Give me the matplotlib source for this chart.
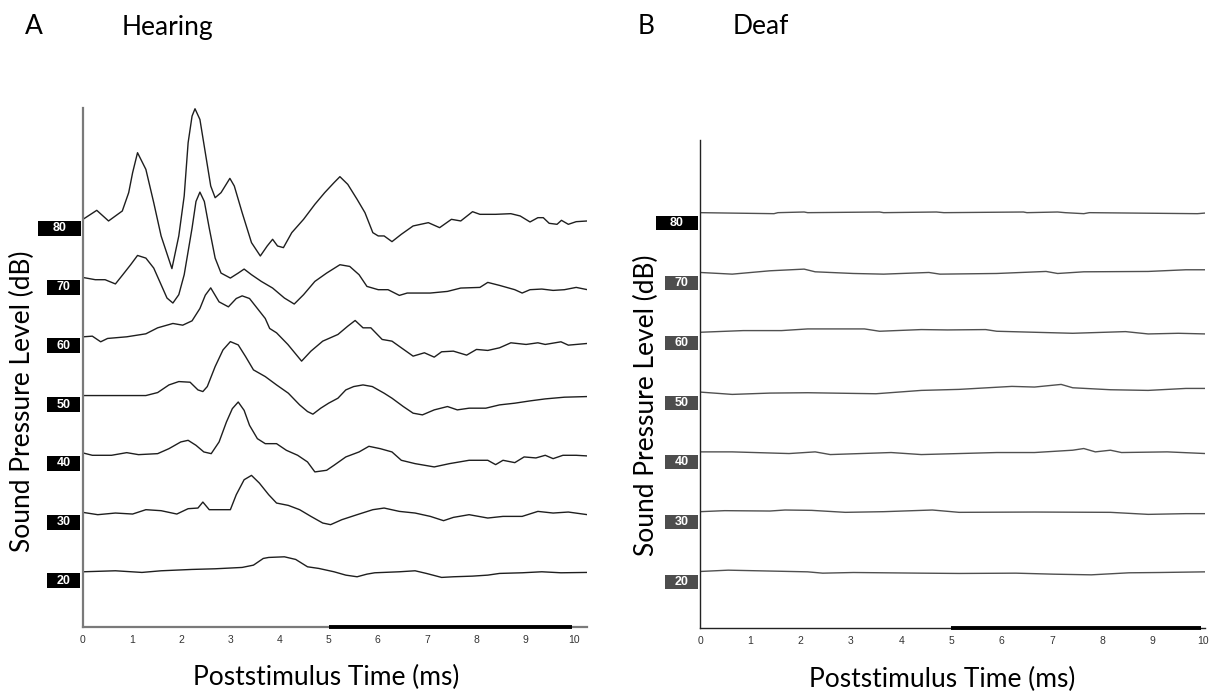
"""
Auditory brainstem responses of a hearing and a deaf animal,
redrawn as two stacked-trace panels (A: Hearing, B: Deaf).
"""
import matplotlib
matplotlib.use('Agg')
from matplotlib import pyplot as plt
from matplotlib.patches import Rectangle

plt.rcParams['font.family'] = ['Lato', 'DejaVu Sans']

levels = [80, 70, 60, 50, 40, 30, 20]
x_ticks = [0, 1, 2, 3, 4, 5, 6, 7, 8, 9, 10]
stim_start, stim_end = 5, 9.96

# --- panel A, hearing: time (ms) and deflection (dB units) per trace ---
hear_80_t = [0, 0.28, 0.52, 0.80, 0.93, 1.01, 1.11, 1.28, 1.44, 1.59, 1.81, 1.95, 2.06,
             2.14, 2.22, 2.28, 2.38, 2.49, 2.60, 2.69, 2.81, 2.99, 3.08, 3.24, 3.43, 3.61,
             3.75, 3.86, 3.96, 4.08, 4.25, 4.49, 4.72, 4.92, 5.11, 5.23, 5.39, 5.58, 5.74,
             5.90, 6.01, 6.13, 6.29, 6.48, 6.72, 7.03, 7.26, 7.50, 7.69, 7.93, 8.08, 8.40,
             8.71, 8.90, 9.10, 9.26, 9.37, 9.49, 9.65, 9.74, 9.88, 10.04, 10.27]
hear_80_a = [0, 1.53, -0.28, 1.42, 4.54, 7.94, 11.34, 8.50, 2.83, -2.83, -8.39, -2.83, 3.97,
             13.04, 17.57, 18.82, 17.0, 11.34, 5.67, 3.68, 4.54, 6.97, 5.67, 1.13, -3.97, -6.24,
             -4.54, -3.40, -4.54, -4.82, -2.27, 0, 2.55, 4.54, 6.24, 7.26, 5.95, 3.40, 1.13,
             -2.27, -2.83, -2.83, -3.80, -2.55, -1.13, -0.57, -1.42, 0, -0.28, 1.30, 0.85, 0.85,
             0.96, 0.57, -0.45, 0.28, 0.28, -0.68, -0.85, -0.17, -0.85, -0.40, -0.28]

hear_70_t = [0, 0.25, 0.45, 0.66, 0.81, 0.97, 1.11, 1.28, 1.44, 1.59, 1.71, 1.83, 1.95, 2.06,
             2.22, 2.30, 2.38, 2.47, 2.57, 2.69, 2.81, 3.00, 3.16, 3.28, 3.43, 3.63, 3.86,
             4.10, 4.30, 4.49, 4.72, 4.96, 5.23, 5.43, 5.62, 5.78, 6.01, 6.21, 6.44, 6.60,
             7.07, 7.42, 7.69, 8.08, 8.24, 8.48, 8.79, 8.94, 9.10, 9.34, 9.57, 9.80, 10.04, 10.27]
hear_70_a = [0.1, -0.28, -0.28, -1.0, 0.57, 2.27, 3.85, 3.40, 1.70, -1.13, -3.40, -4.25, -2.83,
             0.57, 8.50, 13.04, 14.63, 13.04, 8.50, 3.40, 0.85, 0, 0.85, 1.53, 0.57, -0.57,
             -1.70, -3.40, -4.42, -2.83, -0.57, 0.85, 2.27, 1.98, 0.57, -1.42, -1.98, -1.98,
             -2.95, -2.55, -2.55, -2.27, -1.70, -1.59, -0.74, -1.25, -1.98, -2.55, -1.98, -1.87,
             -2.10, -1.98, -1.59, -1.98]

hear_60_t = [0, 0.19, 0.36, 0.50, 0.89, 1.28, 1.52, 1.83, 2.03, 2.22, 2.38, 2.49, 2.60, 2.77,
             2.96, 3.12, 3.24, 3.39, 3.55, 3.71, 3.80, 3.94, 4.17, 4.45, 4.64, 4.88, 5.19,
             5.39, 5.54, 5.70, 5.86, 6.09, 6.29, 6.48, 6.72, 6.95, 7.15, 7.30, 7.54, 7.81,
             8.01, 8.24, 8.48, 8.71, 9.02, 9.26, 9.41, 9.73, 9.88, 10.27]
hear_60_a = [0, 0.11, -0.85, -0.28, 0, 0.51, 1.53, 2.27, 1.98, 2.72, 4.82, 7.09, 8.33, 5.95,
             5.10, 6.52, 6.97, 6.52, 4.82, 3.12, 1.42, 0.68, -1.30, -4.14, -2.44, -0.74, 0.40,
             1.81, 2.78, 1.53, 1.53, -0.45, -0.74, -1.87, -3.29, -2.72, -3.46, -2.55, -2.44,
             -3.12, -2.15, -2.32, -1.87, -1.02, -1.30, -1.02, -1.30, -0.85, -1.42, -1.13]

hear_50_t = [0, 1.28, 1.52, 1.75, 1.95, 2.18, 2.34, 2.44, 2.53, 2.69, 2.85, 3.00, 3.16, 3.31,
             3.47, 3.71, 3.94, 4.18, 4.41, 4.57, 4.68, 4.84, 5.00, 5.19, 5.35, 5.51, 5.70,
             5.89, 6.13, 6.29, 6.52, 6.72, 6.91, 7.15, 7.42, 7.62, 7.86, 8.20, 8.48, 8.79,
             9.10, 9.41, 9.80, 10.27]
hear_50_a = [0, 0, 0.51, 1.81, 2.38, 2.27, 0.96, 0.68, 1.53, 4.93, 7.77, 9.18, 8.62, 6.63,
             4.37, 3.23, 1.81, 0.40, -1.59, -2.72, -3.17, -2.15, -1.30, -0.45, 0.96, 1.53, 1.81,
             1.53, 0.40, -0.45, -1.87, -3.00, -3.29, -2.44, -1.87, -2.44, -2.15, -2.15, -1.59,
             -1.30, -0.91, -0.57, -0.28, -0.17]

hear_40_t = [0, 0.19, 0.58, 0.89, 1.13, 1.52, 1.75, 1.99, 2.14, 2.30, 2.46, 2.61, 2.77, 2.92,
             3.04, 3.16, 3.28, 3.39, 3.55, 3.71, 3.94, 4.14, 4.37, 4.57, 4.72, 4.96, 5.11,
             5.35, 5.62, 5.82, 6.05, 6.29, 6.48, 6.76, 7.15, 7.46, 7.86, 8.24, 8.40, 8.55,
             8.79, 8.98, 9.22, 9.41, 9.57, 9.77, 10.04, 10.27]
hear_40_a = [0.23, -0.17, -0.17, 0.28, -0.06, 0.11, 0.96, 2.10, 2.38, 1.53, 0.40, 0.11, 2.10,
             5.50, 7.77, 8.90, 7.48, 4.93, 2.66, 1.81, 1.81, 0.68, -0.17, -1.30, -3.00, -2.72,
             -1.87, -0.45, 0.40, 1.36, 0.96, 0.40, -1.02, -1.59, -2.15, -1.59, -1.02, -1.02,
             -1.76, -1.02, -1.42, -0.45, -0.62, -0.17, -0.74, -0.17, -0.17, -0.28]

hear_30_t = [0, 0.30, 0.66, 1.01, 1.28, 1.59, 1.91, 2.14, 2.34, 2.44, 2.57, 2.85, 3.00, 3.12,
             3.28, 3.43, 3.59, 3.78, 3.94, 4.18, 4.41, 4.64, 4.88, 5.04, 5.27, 5.58, 5.90,
             6.13, 6.44, 6.76, 7.07, 7.34, 7.54, 7.86, 8.24, 8.55, 8.94, 9.26, 9.57, 9.88, 10.27]
hear_30_a = [0.11, -0.28, 0, -0.17, 0.57, 0.40, -0.17, 0.74, 0.85, 1.87, 0.57, 0.57, 0.57, 3.12,
             5.67, 6.41, 5.10, 3.12, 1.70, 1.30, 0.57, -0.57, -1.70, -1.98, -1.13, -0.28, 0.57,
             0.85, 0.28, 0, -0.57, -1.30, -0.74, -0.28, -0.85, -0.57, -0.57, 0.28, 0, 0.17, -0.28]

hear_20_t = [0, 0.66, 1.20, 1.59, 2.22, 2.69, 3.24, 3.47, 3.67, 3.78, 4.10, 4.33, 4.57, 4.80,
             5.11, 5.35, 5.58, 5.78, 5.94, 6.44, 6.76, 6.99, 7.30, 7.54, 7.93, 8.24, 8.48,
             8.94, 9.34, 9.73, 10.27]
hear_20_a = [0, 0.17, -0.11, 0.17, 0.40, 0.51, 0.74, 1.13, 2.27, 2.44, 2.55, 2.10, 0.85, 0.57,
             0, -0.57, -0.85, -0.40, -0.17, 0, 0.17, -0.28, -0.96, -0.85, -0.74, -0.57, -0.28,
             -0.17, 0, -0.17, -0.11]

# --- panel B, deaf ---
deaf_80_t = [0, 1.47, 1.55, 2.07, 2.14, 3.57, 3.65, 4.70, 4.85, 6.43, 6.50, 7.11, 7.26, 7.63,
             7.74, 9.89, 10.05]
deaf_80_a = [0, -0.17, 0, 0.11, 0, 0.11, 0, 0.11, 0, 0.11, 0, 0.11, 0, -0.17, 0, -0.17, -0.06]

deaf_70_t = [0, 0.64, 1.39, 2.07, 2.29, 3.05, 3.65, 4.55, 4.77, 5.90, 6.88, 7.11, 7.63, 8.91,
             9.66, 10.05]
deaf_70_a = [0, -0.28, 0.28, 0.56, 0.11, -0.17, -0.28, 0, -0.28, -0.17, 0.17, -0.17, 0.11, 0.17,
             0.45, 0.45]

deaf_60_t = [0, 0.86, 1.62, 2.14, 3.27, 3.57, 4.40, 4.92, 5.68, 5.90, 6.65, 7.41, 8.46, 8.91,
             9.51, 10.05]
deaf_60_a = [0, 0.28, 0.28, 0.56, 0.56, 0.17, 0.45, 0.39, 0.45, 0.17, 0, -0.17, 0.11, -0.28,
             -0.17, -0.28]

deaf_50_t = [0, 0.64, 1.39, 2.14, 3.50, 4.40, 5.15, 6.20, 6.65, 7.18, 7.41, 8.16, 8.91, 9.66,
             10.05]
deaf_50_a = [0, -0.39, -0.17, -0.11, -0.28, 0.28, 0.45, 0.95, 0.84, 1.28, 0.72, 0.39, 0.28, 0.61,
             0.61]

deaf_40_t = [0, 0.64, 1.77, 2.29, 2.59, 3.80, 4.40, 5.15, 5.90, 6.65, 7.41, 7.63, 7.86, 8.16,
             8.38, 9.29, 10.05]
deaf_40_a = [0, 0, -0.28, 0, -0.45, -0.11, -0.45, -0.28, -0.11, -0.11, 0.28, 0.56, 0, 0.28,
             -0.11, 0, -0.28]

deaf_30_t = [0, 0.49, 1.39, 1.69, 2.22, 2.89, 3.65, 4.62, 5.15, 6.65, 8.16, 8.91, 9.66, 10.05]
deaf_30_a = [0, 0.17, 0.11, 0.28, 0.22, -0.11, 0, 0.28, -0.11, -0.06, -0.11, -0.45, -0.33, -0.33]

deaf_20_t = [0, 0.56, 2.14, 2.44, 3.05, 4.40, 5.15, 6.28, 7.03, 7.78, 8.53, 9.14, 10.05]
deaf_20_a = [0, 0.22, -0.06, -0.28, -0.17, -0.28, -0.33, -0.28, -0.45, -0.56, -0.22, -0.17, -0.06]

hearing_traces = [(hear_80_t, hear_80_a), (hear_70_t, hear_70_a), (hear_60_t, hear_60_a),
                  (hear_50_t, hear_50_a), (hear_40_t, hear_40_a), (hear_30_t, hear_30_a),
                  (hear_20_t, hear_20_a)]
deaf_traces = [(deaf_80_t, deaf_80_a), (deaf_70_t, deaf_70_a), (deaf_60_t, deaf_60_a),
               (deaf_50_t, deaf_50_a), (deaf_40_t, deaf_40_a), (deaf_30_t, deaf_30_a),
               (deaf_20_t, deaf_20_a)]

SMALL_FONT = ['Liberation Sans', 'DejaVu Sans']


def draw_panel(ax, traces, ylim, xmax, base_offset, box_h, trace_color, spine_color,
               spine_w, box_colors, box_x):
    """Draw stacked traces, the dB level boxes and the axis styling."""
    for level, (t, a) in zip(levels, traces):
        y = [level + base_offset + v for v in a]
        ax.plot(t, y, color=trace_color, lw=1.0, solid_joinstyle='round')

    for i, level in enumerate(levels):
        x0, w = box_x[0] if i == 0 else box_x[1]
        ax.add_patch(Rectangle((x0, level - box_h / 2), w, box_h,
                               transform=ax.get_yaxis_transform(), clip_on=False,
                               facecolor=box_colors[0] if i == 0 else box_colors[1],
                               edgecolor='none'))
        ax.text(x0 + w / 2, level, str(level), transform=ax.get_yaxis_transform(),
                ha='center', va='center', color='white', fontsize=9, fontweight='bold',
                family=SMALL_FONT)

    # stimulus bar along the time axis
    ax.plot([stim_start, stim_end], [ylim[0], ylim[0]], color='black', lw=2.8,
            clip_on=False, solid_capstyle='butt', zorder=5)

    ax.set_xlim(0, xmax)
    ax.set_ylim(*ylim)
    ax.set_xticks(x_ticks)
    ax.set_xticklabels([str(v) for v in x_ticks], fontsize=7.5, color='#333333',
                       family=SMALL_FONT)
    ax.tick_params(axis='x', length=0, pad=6)
    ax.set_yticks([])
    for side in ['top', 'right']:
        ax.spines[side].set_visible(False)
    for side in ['left', 'bottom']:
        ax.spines[side].set_color(spine_color)
        ax.spines[side].set_linewidth(spine_w)


def plot_abr():
    fig = plt.figure(figsize=(12.12, 6.92), dpi=100)

    ax_a = fig.add_axes([83 / 1212, 65 / 692, 504 / 1212, 519 / 692])
    draw_panel(ax_a, hearing_traces, (12.15, 100.5), 10.26, 1.55, 2.55,
               '#1e1e1e', '#7a7a7a', 1.6, ('black', 'black'),
               ((-0.0893, 0.0853), (-0.0714, 0.0655)))

    ax_b = fig.add_axes([700 / 1212, 64 / 692, 505 / 1212, 488 / 692])
    draw_panel(ax_b, deaf_traces, (12.3, 93.9), 10.04, 1.75, 2.34,
               '#505050', '#222222', 1.0, ('black', '#4d4d4d'),
               ((-0.0871, 0.0832), (-0.0693, 0.0653)))

    fs = 19
    fig.text(34 / 1212, 1 - 27 / 692, 'A', ha='center', va='center', fontsize=fs)
    fig.text(167 / 1212, 1 - 27 / 692, 'Hearing', ha='center', va='center', fontsize=fs)
    fig.text(646 / 1212, 1 - 27 / 692, 'B', ha='center', va='center', fontsize=fs)
    fig.text(761 / 1212, 1 - 27 / 692, 'Deaf', ha='center', va='center', fontsize=fs)

    fig.text(326 / 1212, 1 - 677 / 692, 'Poststimulus Time (ms)', ha='center',
             va='center', fontsize=fs)
    fig.text(942 / 1212, 1 - 679 / 692, 'Poststimulus Time (ms)', ha='center',
             va='center', fontsize=fs)
    fig.text(22 / 1212, 1 - 401 / 692, 'Sound Pressure Level (dB)', ha='center',
             va='center', rotation=90, fontsize=fs)
    fig.text(646 / 1212, 1 - 405 / 692, 'Sound Pressure Level (dB)', ha='center',
             va='center', rotation=90, fontsize=fs)

    fig.savefig('out.png', dpi=100)


if __name__ == "__main__":
    plot_abr()
